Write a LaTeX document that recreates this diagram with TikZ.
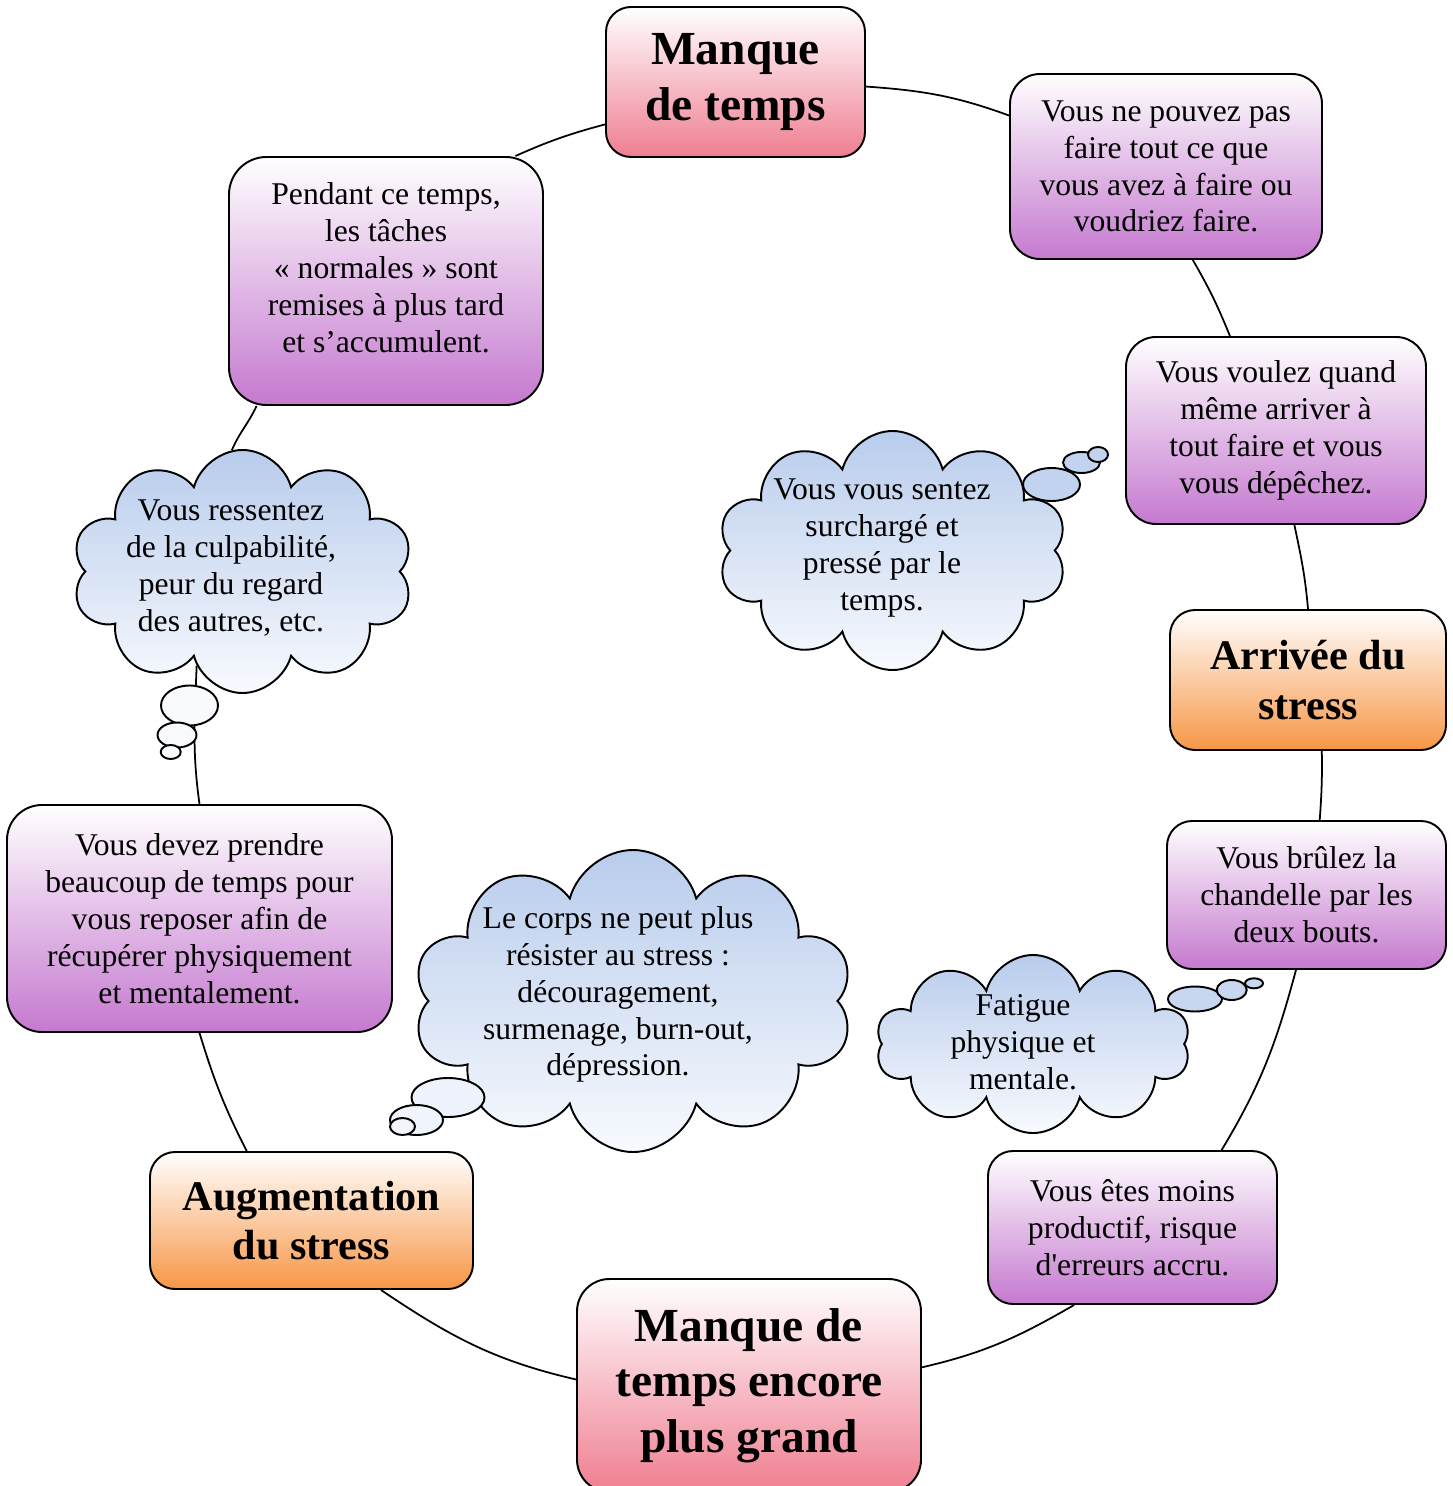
\documentclass[tikz,border=0pt]{standalone}
\usepackage{fontspec}
\setmainfont{Liberation Serif}
\usetikzlibrary{shapes}
\usetikzlibrary{arrows}
\definecolor{rosebas}{RGB}{239,126,145}
\definecolor{mauvebas}{RGB}{197,121,207}
\definecolor{orangebas}{RGB}{247,150,70}
\definecolor{bleuhaut}{RGB}{184,204,236}
\definecolor{bleubas}{RGB}{248,250,254}
\begin{document}
\begin{tikzpicture}[x=0.2mm,y=0.2mm]
			\tikzstyle{boite}=[rectangle,draw,line width=1.1pt,rounded corners=5mm,align=center,inner sep=2pt,font=\fontsize{18}{21}\selectfont]
			\tikzstyle{titre}=[boite,font=\bfseries\fontsize{27}{31.5}\selectfont]
			\tikzstyle{soustitre}=[boite,font=\bfseries\fontsize{24}{28}\selectfont]
			\tikzstyle{rose}=[top color=white,bottom color=rosebas]
			\tikzstyle{mauve}=[top color=white,bottom color=mauvebas]
			\tikzstyle{orangee}=[top color=white,bottom color=orangebas]
			\tikzstyle{nuage}=[cloud,cloud puffs=10,cloud ignores aspect,draw,line width=1.1pt,inner sep=0pt,top color=bleuhaut,bottom color=bleubas]
			\tikzstyle{texte}=[align=center,inner sep=0pt,font=\fontsize{18}{21}\selectfont]
			\tikzstyle{bulle}=[ellipse,draw,line width=1.1pt,inner sep=0pt]
			\tikzstyle{trait}=[line width=1pt]
			
			\useasboundingbox (0,0) rectangle (1453,-1486);
			
			\node[titre,rose,minimum width=51.8mm,minimum height=30mm] (manque) at (735.5,-82) {Manque\\de temps};
			\node[boite,mauve,rounded corners=6mm,minimum width=62.4mm,minimum height=37mm] (pouvez) at (1166,-166.5) {Vous ne pouvez pas\\faire tout ce que\\vous avez à faire ou\\voudriez faire.};
			\node[boite,mauve,rounded corners=6mm,minimum width=60mm,minimum height=37.4mm] (voulez) at (1276,-430.5) {Vous voulez quand\\même arriver à\\tout faire et vous\\vous dépêchez.};
			\node[soustitre,orangee,minimum width=55.2mm,minimum height=28mm] (arrivee) at (1308,-680) {Arrivée du\\stress};
			\node[boite,mauve,minimum width=55.8mm,minimum height=29.6mm] (brulez) at (1306.5,-895) {Vous brûlez la\\chandelle par les\\deux bouts.};
			\node[boite,mauve,minimum width=57.8mm,minimum height=30.6mm] (moins) at (1132.5,-1227.5) {Vous êtes moins\\productif, risque\\d\textquotesingle erreurs accru.};
			\node[titre,rose,rounded corners=6.5mm,minimum width=68.8mm,minimum height=42.6mm] (encore) at (749,-1385.5) {Manque de\\temps encore\\plus grand};
			\node[soustitre,orangee,minimum width=64.6mm,minimum height=27.4mm] (augment) at (311.5,-1220.5) {Augmentation\\du stress};
			\node[boite,mauve,rounded corners=7mm,minimum width=77mm,minimum height=45.4mm] (reposer) at (199.5,-918.5) {Vous devez prendre\\beaucoup de temps pour\\vous reposer afin de\\récupérer physiquement\\et mentalement.};
			\node[boite,mauve,rounded corners=7.5mm,text depth=5.5mm,minimum width=62.8mm,minimum height=49.6mm] (pendant) at (386,-281) {Pendant ce temps,\\les tâches\\«~normales~» sont\\remises à plus tard\\et s’accumulent.};
			
			\node[nuage,minimum width=68.2mm,minimum height=48.6mm] (culpa) at (242.5,-571.5) {};
			\node[texte] (culpatexte) at (231,-568) {Vous ressentez\\de la culpabilité,\\peur du regard\\des autres, etc.};
			\node[nuage,minimum width=69.8mm,minimum height=47.8mm] (surcharge) at (892.5,-550.5) {};
			\node[texte] (surchargetexte) at (882,-548) {Vous vous sentez\\surchargé et\\pressé par le\\temps.};
			\node[nuage,minimum width=88mm,minimum height=60.4mm] (corps) at (633,-1001) {};
			\node[texte] (corpstexte) at (618,-994.5) {Le corps ne peut plus\\résister au stress :\\découragement,\\surmenage, burn-out,\\dépression.};
			\node[nuage,minimum width=62.8mm,minimum height=35.6mm] (fatigue) at (1033,-1044) {};
			\node[texte] (fatiguetexte) at (1023,-1042) {Fatigue\\physique et\\mentale.};
			
			\draw[trait] (manque.-2) to[out=-4,in=160] (pouvez.162);
			\draw[trait] (pouvez.-74) to[out=-60,in=112] (voulez.116);
			\draw[trait] (voulez.-79) to[out=-78,in=95] (arrivee.north);
			\draw[trait] (arrivee.-79) to[out=-89,in=86] (brulez.80);
			\draw[trait] (brulez.-98) to[out=-105,in=59] (moins.41);
			\draw[trait] (moins.-127) to[out=-150,in=13] (encore.6);
			\draw[trait] (encore.178) to[out=167,in=-34] (augment.-45);
			\draw[trait] (augment.133) to[out=117,in=-73] (reposer.south);
			\draw[trait] (reposer.north) to[out=98,in=-92] (culpa.-116);
			\draw[trait] (culpa.95) to[out=67,in=-115] (pendant.-136);
			\draw[trait] (pendant.44) to[out=24,in=-165] (manque.198);
			
			\node[bulle,fill=bleubas,minimum width=11.4mm,minimum height=8mm] (culpa1) at (189.5,-705.5) {};
			\node[bulle,fill=bleubas,minimum width=7.8mm,minimum height=5mm] (culpa2) at (177,-735) {};
			\node[bulle,fill=bleubas,minimum width=4mm,minimum height=2.8mm] (culpa3) at (170.7,-752) {};
			\node[bulle,fill=bleuhaut!85!bleubas,minimum width=11.4mm,minimum height=6.6mm] (surcharge1) at (1051.5,-484.5) {};
			\node[bulle,fill=bleuhaut!85!bleubas,minimum width=7.4mm,minimum height=4.2mm] (surcharge2) at (1081.5,-462.5) {};
			\node[bulle,fill=bleuhaut!85!bleubas,minimum width=4mm,minimum height=3mm] (surcharge3) at (1098,-454.5) {};
			\node[bulle,fill=bleuhaut!15!bleubas,minimum width=14.6mm,minimum height=7.8mm] (corps1) at (448,-1097.5) {};
			\node[bulle,fill=bleuhaut!12!bleubas,minimum width=10.6mm,minimum height=6mm] (corps2) at (416.5,-1120) {};
			\node[bulle,fill=bleuhaut!10!bleubas,minimum width=5mm,minimum height=3.4mm] (corps3) at (402.5,-1126.5) {};
			\node[bulle,fill=bleuhaut!75!bleubas,minimum width=10.8mm,minimum height=5mm] (fatigue1) at (1195,-999) {};
			\node[bulle,fill=bleuhaut!75!bleubas,minimum width=6mm,minimum height=4mm] (fatigue2) at (1231.7,-990) {};
			\node[bulle,fill=bleuhaut!75!bleubas,minimum width=3.6mm,minimum height=2mm] (fatigue3) at (1254,-983.3) {};
\end{tikzpicture}
\end{document}
